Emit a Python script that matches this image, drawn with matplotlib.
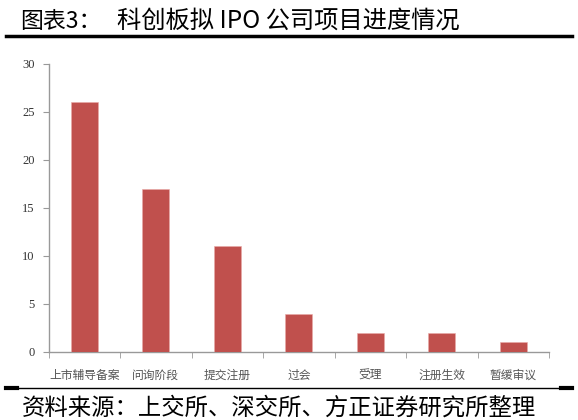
import matplotlib.pyplot as plt
import numpy as np

categories = ['上市辅导备案', '问询阶段', '提交注册', '过会', '受理', '注册生效', '暂缓审议']
counts = [26, 17, 11, 4, 2, 2, 1]
yticks = [0, 5, 10, 15, 20, 25, 30]

plt.rcParams['font.family'] = ['Noto Sans CJK SC', 'DejaVu Sans']

fig = plt.figure(figsize=(5.78, 4.2), dpi=100)
ax = fig.add_axes([0.084, 0.162, 0.866, 0.686])

x = np.arange(len(categories))
ax.bar(x, counts, width=0.38, color='#C0504D', edgecolor='#E8A9A7', linewidth=0.4, zorder=3)

ax.set_xlim(-0.5, len(categories) - 0.5)
ax.set_ylim(0, 30)
ax.set_yticks(yticks)
ax.set_yticklabels([str(v) for v in yticks], family='Liberation Serif', fontsize=9, color='#333333')
ax.set_xticks(x)
ax.set_xticklabels(categories, fontsize=8.5, color='#555555')
ax.set_xticks(np.arange(len(categories) + 1) - 0.5, minor=True)
ax.tick_params(axis='x', which='major', length=0, pad=12)
ax.tick_params(axis='x', which='minor', length=4, color='#999999', direction='out')
ax.tick_params(axis='y', length=4, color='#999999', direction='out', pad=6)

for side in ['top', 'right']:
    ax.spines[side].set_visible(False)
for side in ['left', 'bottom']:
    ax.spines[side].set_color('#999999')
    ax.spines[side].set_linewidth(1.0)

# title and rules
fig.text(0.035, 0.933, '图表3：', fontsize=16.5, weight='medium',
         ha='left', va='baseline', color='black')
fig.text(0.203, 0.933, '科创板拟 IPO 公司项目进度情况', fontsize=17.5, weight='medium',
         ha='left', va='baseline', color='black')
fig.add_artist(plt.Line2D([0.01, 0.99], [0.915, 0.915], color='black', linewidth=2.5))
fig.add_artist(plt.Line2D([0.01, 0.99], [0.076, 0.076], color='black', linewidth=1.0))
fig.add_artist(plt.Line2D([0.01, 0.03], [0.076, 0.076], color='black', linewidth=3.0))
fig.add_artist(plt.Line2D([0.97, 0.99], [0.076, 0.076], color='black', linewidth=3.0))
fig.text(0.038, 0.012, '资料来源：上交所、深交所、方正证券研究所整理', fontsize=16.8, style='italic',
         ha='left', va='baseline', color='black')

fig.savefig('out.png', dpi=100)
